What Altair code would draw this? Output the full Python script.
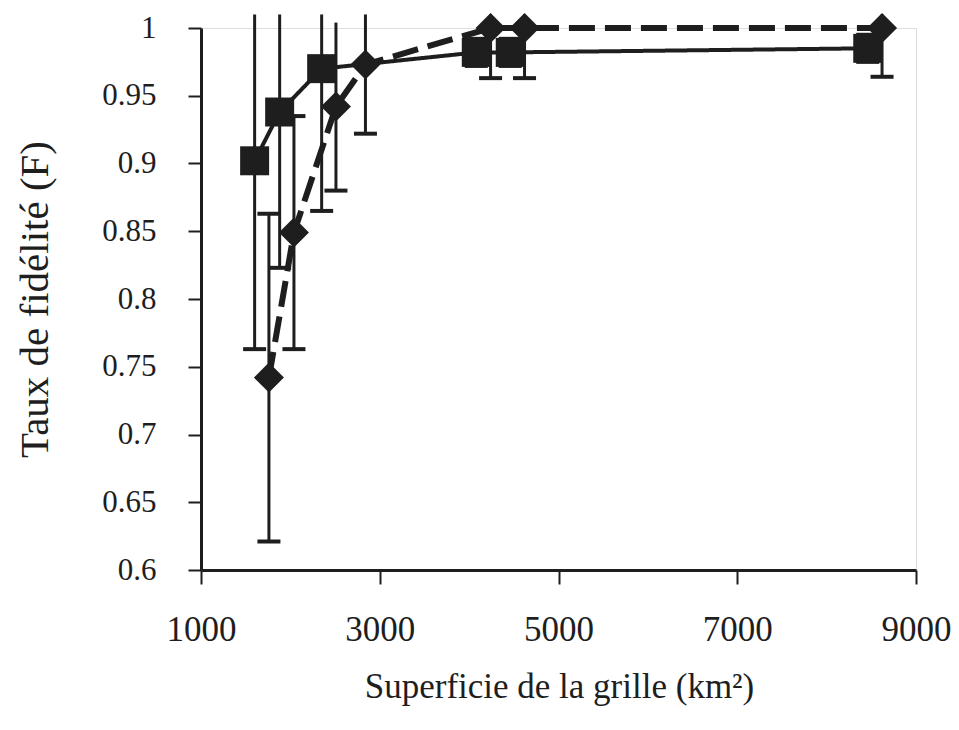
import altair as alt
import pandas as pd

# Series with square markers (solid line)
sq_x = [1600, 1880, 2350, 4080, 4460, 8460]
sq_y = [0.902, 0.938, 0.970, 0.982, 0.982, 0.985]
sq_err = [0.139, 0.115, 0.105, 0.010, 0.010, 0.010]

# Series with diamond markers (dashed line)
di_x = [1760, 2040, 2510, 2840, 4240, 4620, 8620]
di_y = [0.742, 0.849, 0.942, 0.973, 1.000, 1.000, 1.000]
di_err = [0.121, 0.086, 0.062, 0.051, 0.037, 0.037, 0.036]

x_ticks = [1000, 3000, 5000, 7000, 9000]
y_ticks = [0.6, 0.65, 0.7, 0.75, 0.8, 0.85, 0.9, 0.95, 1.0]
TOP = 1.01  # error bars are cut just above the plot frame


def frame(xs, ys, es):
    df = pd.DataFrame({"x": xs, "y": ys, "e": es})
    df["lo"] = df["y"] - df["e"]
    df["hi_raw"] = df["y"] + df["e"]
    df["hi"] = df["hi_raw"].clip(upper=TOP)
    return df


sq = frame(sq_x, sq_y, sq_err)
di = frame(di_x, di_y, di_err)

FONT = "Liberation Serif"
INK = "#1e1e1e"

xs = alt.Scale(domain=[1000, 9000], nice=False, zero=False)
ys = alt.Scale(domain=[0.6, 1.0], nice=False, zero=False)

x_axis = alt.Axis(
    values=x_ticks, format="d", grid=False, labelFlush=False,
    labelFont=FONT, labelFontSize=35, labelColor=INK, labelPadding=28,
    tickSize=14, tickWidth=2, tickColor=INK,
    domainWidth=3, domainColor=INK,
    title="Superficie de la grille (km²)", titleFont=FONT, titleFontSize=35,
    titleFontWeight="normal", titleColor=INK,
    titleX=358, titleY=116, titleAlign="center", titleBaseline="middle",
)
y_axis = alt.Axis(
    values=y_ticks, grid=False, labelFlush=False,
    labelExpr="format(datum.value, '.2~f')",
    labelFont=FONT, labelFontSize=31, labelColor=INK, labelPadding=32,
    tickSize=13, tickWidth=2, tickColor=INK,
    domainWidth=3, domainColor=INK,
    title="Taux de fidélité (F)", titleFont=FONT, titleFontSize=41,
    titleFontWeight="normal", titleColor=INK,
    titleX=-166, titleY=271, titleAlign="center", titleBaseline="middle",
    titleAngle=270,
)


def layers(df, shape, size, dash, width):
    base = alt.Chart(df)
    line = base.mark_line(color=INK, strokeWidth=width, strokeDash=dash, clip=False).encode(
        x=alt.X("x:Q", scale=xs, axis=x_axis),
        y=alt.Y("y:Q", scale=ys, axis=y_axis),
    )
    rule = base.mark_rule(color=INK, strokeWidth=3, clip=False).encode(
        x="x:Q", y="lo:Q", y2="hi:Q"
    )
    cap_lo = base.mark_tick(orient="horizontal", size=23, thickness=4, color=INK, opacity=1, clip=False).encode(
        x="x:Q", y="lo:Q"
    )
    cap_hi = base.transform_filter("datum.hi_raw < 1").mark_tick(
        orient="horizontal", size=23, thickness=4, color=INK, opacity=1, clip=False
    ).encode(x="x:Q", y="hi:Q")
    pts = base.mark_point(shape=shape, size=size, filled=True, color=INK, opacity=1, clip=False).encode(
        x="x:Q", y="y:Q"
    )
    return [line, rule, cap_lo, cap_hi, pts]


chart = alt.layer(
    *layers(sq, "square", 840, [1, 0], 4),
    *layers(di, "diamond", 900, [26, 10], 6),
).properties(
    width=715, height=542,
    autosize=alt.AutoSizeParams(type="none"),
    padding={"left": 193, "top": 20, "right": 35, "bottom": 152},
).configure_view(
    stroke="#999999", strokeWidth=1, strokeDash=[2, 2]
).configure(background="white")

chart.save("out.html", embed_options={"renderer": "svg", "actions": False})
